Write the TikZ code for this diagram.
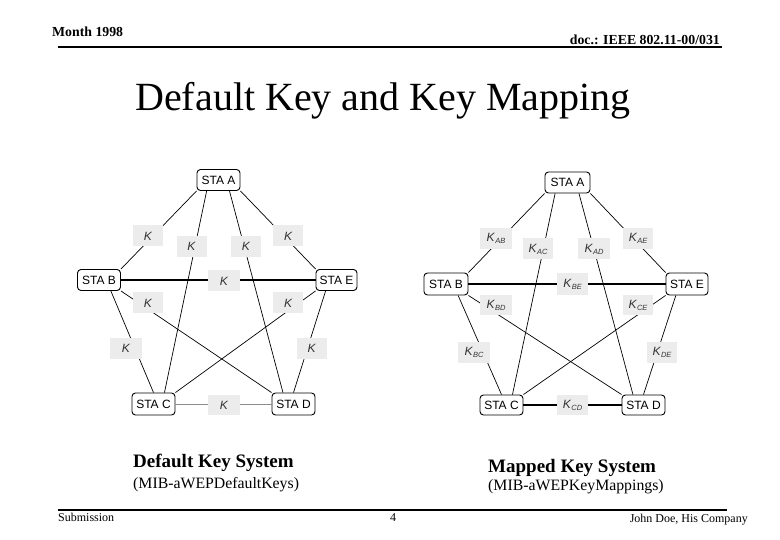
\documentclass[tikz,border=0pt]{standalone}
\usepackage{fontspec}
\setmainfont{Liberation Serif}
\setsansfont{Liberation Sans}
\usetikzlibrary{calc}
\definecolor{keygray}{HTML}{ECECEC}
\definecolor{keytext}{HTML}{333333}
\tikzset{
  sta/.style={draw, rounded corners=3.5pt, line width=0.9pt, fill=white,
    font=\sffamily\fontsize{12}{12}\selectfont, minimum width=43pt, minimum height=21pt, inner sep=0pt},
  keybox/.style={fill=keygray, text=keytext, font=\sffamily\itshape\fontsize{12}{12}\selectfont,
    minimum width=30pt, minimum height=21pt, inner sep=0pt},
  link/.style={line width=0.7pt},
  strong/.style={line width=1.4pt},
  graylink/.style={line width=0.9pt, draw=black!45},
  hdr/.style={font=\bfseries\fontsize{13.8}{14}\selectfont, inner sep=0pt},
  foot/.style={font=\fontsize{12}{12}\selectfont, inner sep=0pt},
  captext/.style={font=\bfseries\fontsize{19}{19}\selectfont, inner sep=0pt},
  subcap/.style={font=\fontsize{15.8}{16}\selectfont, inner sep=0pt},
  hrule/.style={line width=2pt}
}
\newcommand{\Ksub}[1]{K\kern0.5pt\raisebox{-2pt}{\fontsize{7.5}{7.5}\selectfont #1}}
\begin{document}
\begin{tikzpicture}[x=1pt,y=-1pt]
\useasboundingbox (0,0) rectangle (780,540);
% header
\node[hdr, anchor=base west] (month) at (52,37) {Month 1998};
\node[hdr, anchor=base east] (doc) at (720,45) {doc.: IEEE 802.11-00/031};
\coordinate (tl) at (58,47); \coordinate (tr) at (722,47);
\draw[hrule] (tl) -- (tr);
\node[font=\fontsize{40}{40}\selectfont, inner sep=0pt, anchor=base] (title) at (383,111) {Default Key and Key Mapping};

% ---------- left diagram ----------
\node[sta] (A) at (218.5,180) {STA A};
\node[sta] (B) at (99,280) {STA B};
\node[sta, minimum width=41pt] (E) at (336.5,280) {STA E};
\node[sta, minimum height=22pt] (C) at (153.5,404) {STA C};
\node[sta, minimum height=22pt] (D) at (293.5,404) {STA D};

\draw[link] (A.south west) -- (B.north east);
\draw[link] ($(A.south west)!0.23!(A.south east)$) -- ($(C.north west)!0.75!(C.north east)$);
\draw[link] ($(A.south west)!0.75!(A.south east)$) -- ($(D.north west)!0.26!(D.north east)$);
\draw[link] (A.south east) -- (E.north west);
\draw[strong] (B.east) -- (E.west);
\draw[link] (B.south east) -- (D.north west);
\draw[link] (C.north east) -- (E.south west);
\draw[link] ($(B.south west)!0.77!(B.south east)$) -- (C.north);
\draw[link] ($(E.south west)!0.24!(E.south east)$) -- (D.north);
\draw[graylink] (C.east) -- (D.west);

\node[keybox] (kab) at (148,236) {K};
\node[keybox] (kac) at (191.5,246.5) {K};
\node[keybox] (kad) at (246,246.5) {K};
\node[keybox] (kae) at (288,236) {K};
\node[keybox, minimum width=32pt] (kbe) at (224,281) {K};
\node[keybox] (kbd) at (148,303) {K};
\node[keybox] (kce) at (288,303) {K};
\node[keybox, minimum width=32pt] (kbc) at (126,348.5) {K};
\node[keybox] (kde) at (311.5,348.5) {K};
\node[keybox, minimum width=32pt, minimum height=20pt] (kcd) at (224,405) {K};

% ---------- right diagram ----------
\node[sta, minimum width=45pt] (A2) at (567.5,182.5) {STA A};
\node[sta, minimum width=44pt, minimum height=22pt] (B2) at (446,284) {STA B};
\node[sta, minimum width=42pt, minimum height=22pt] (E2) at (687,284) {STA E};
\node[sta, minimum height=20pt] (C2) at (501.5,405) {STA C};
\node[sta, minimum height=20pt] (D2) at (643.5,405) {STA D};

\draw[link] (A2.south west) -- (B2.north east);
\draw[link] ($(A2.south west)!0.23!(A2.south east)$) -- ($(C2.north west)!0.75!(C2.north east)$);
\draw[link] ($(A2.south west)!0.75!(A2.south east)$) -- ($(D2.north west)!0.26!(D2.north east)$);
\draw[link] (A2.south east) -- (E2.north west);
\draw[strong] (B2.east) -- (E2.west);
\draw[link] (B2.south east) -- (D2.north west);
\draw[link] (C2.north east) -- (E2.south west);
\draw[link] ($(B2.south west)!0.77!(B2.south east)$) -- (C2.north);
\draw[link] ($(E2.south west)!0.24!(E2.south east)$) -- (D2.north);
\draw[strong] (C2.east) -- (D2.west);

\node[keybox, minimum width=32pt] (rab) at (496,238.5) {\Ksub{AB}};
\node[keybox, minimum width=30pt] (rac) at (538,249) {\Ksub{AC}};
\node[keybox, minimum width=32pt] (rad) at (594,249) {\Ksub{AD}};
\node[keybox, minimum width=30pt] (rae) at (638,238.5) {\Ksub{AE}};
\node[keybox, minimum width=31pt, minimum height=22pt] (rbe) at (572.5,284) {\Ksub{BE}};
\node[keybox, minimum width=32pt, minimum height=20pt] (rbd) at (496,305) {\Ksub{BD}};
\node[keybox, minimum width=30pt, minimum height=20pt] (rce) at (638,305) {\Ksub{CE}};
\node[keybox, minimum width=32pt] (rbc) at (474,352.5) {\Ksub{BC}};
\node[keybox, minimum width=30pt] (rde) at (662,352.5) {\Ksub{DE}};
\node[keybox, minimum width=31pt, minimum height=20pt] (rcd) at (572.5,405) {\Ksub{CD}};

% captions
\node[captext, anchor=base west] (c1) at (133,467) {Default Key System};
\node[subcap, anchor=base west] (s1) at (133,488.5) {(MIB-aWEPDefaultKeys)};
\node[captext, anchor=base west] (c2) at (488,472) {Mapped Key System};
\node[subcap, anchor=base west] (s2) at (488,490) {(MIB-aWEPKeyMappings)};

% footer
\coordinate (bl) at (58,510); \coordinate (br) at (727,510);
\draw[hrule] (bl) -- (br);
\node[foot, anchor=base west] (sub) at (58,521) {Submission};
\node[foot, anchor=base] (pg) at (393,521) {4};
\node[foot, anchor=base east] (auth) at (748,522) {John Doe, His Company};
\end{tikzpicture}
\end{document}
